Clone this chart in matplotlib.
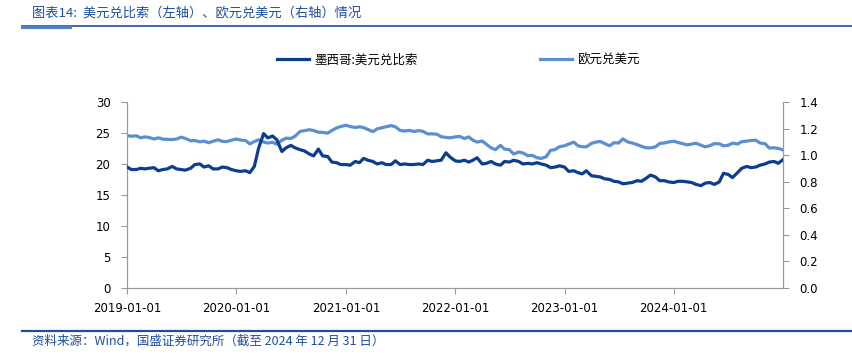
import numpy as np
import pandas as pd
from matplotlib import pyplot as plt
from matplotlib.lines import Line2D
import matplotlib.dates as mdates

plt.rcParams['font.family'] = ['DejaVu Sans', 'Noto Sans CJK SC']
cjk = ['Noto Sans CJK SC', 'DejaVu Sans']

# semi-monthly observations (1st and 15th), plus the last day of 2024
dates = list(pd.date_range('2019-01-01', periods=144, freq='SMS')) + [pd.Timestamp('2024-12-31')]

usd_mxn = [
    # 2019
    19.5, 19.1, 19.1, 19.3, 19.2, 19.3, 19.4, 18.9, 19.1, 19.2, 19.6, 19.2,
    19.1, 19.0, 19.3, 19.9, 20.0, 19.5, 19.7, 19.2, 19.2, 19.5, 19.4, 19.1,
    # 2020
    18.9, 18.8, 18.9, 18.6, 19.6, 22.5, 24.9, 24.2, 24.5, 23.9, 22.0, 22.6,
    23.0, 22.6, 22.3, 22.1, 21.6, 21.3, 22.4, 21.3, 21.2, 20.3, 20.2, 19.9,
    # 2021
    19.9, 19.8, 20.4, 20.2, 20.9, 20.6, 20.4, 20.0, 20.2, 19.9, 19.9, 20.5,
    19.9, 20.0, 19.9, 19.9, 20.0, 19.9, 20.6, 20.4, 20.5, 20.6, 21.8, 21.1,
    # 2022
    20.5, 20.4, 20.6, 20.3, 20.6, 21.0, 20.0, 20.1, 20.4, 20.0, 19.8, 20.4,
    20.3, 20.6, 20.4, 20.0, 20.1, 20.0, 20.2, 20.0, 19.8, 19.4, 19.5, 19.7,
    # 2023
    19.5, 18.8, 18.9, 18.6, 18.4, 18.9, 18.1, 18.0, 17.9, 17.6, 17.5, 17.2,
    17.1, 16.8, 16.9, 17.0, 17.3, 17.2, 17.7, 18.2, 17.9, 17.3, 17.3, 17.1,
    # 2024
    17.0, 17.2, 17.2, 17.1, 17.0, 16.7, 16.5, 16.9, 17.0, 16.7, 17.1, 18.5,
    18.3, 17.8, 18.6, 19.3, 19.6, 19.4, 19.5, 19.8, 20.0, 20.3, 20.4, 20.1,
    20.7,
]

eur_usd = [
    # 2019
    1.147, 1.142, 1.145, 1.130, 1.137, 1.133, 1.121, 1.130, 1.120, 1.119, 1.117, 1.121,
    1.135, 1.125, 1.108, 1.110, 1.100, 1.105, 1.093, 1.104, 1.115, 1.103, 1.102, 1.112,
    # 2020
    1.121, 1.113, 1.109, 1.084, 1.102, 1.115, 1.098, 1.091, 1.096, 1.082, 1.112, 1.127,
    1.125, 1.142, 1.178, 1.184, 1.191, 1.185, 1.172, 1.171, 1.165, 1.185, 1.205, 1.215,
    # 2021
    1.225, 1.215, 1.208, 1.213, 1.207, 1.193, 1.177, 1.197, 1.206, 1.213, 1.222, 1.213,
    1.186, 1.181, 1.186, 1.178, 1.184, 1.179, 1.159, 1.160, 1.157, 1.138, 1.133, 1.130,
    # 2022
    1.137, 1.141, 1.125, 1.137, 1.112, 1.098, 1.106, 1.082, 1.054, 1.041, 1.073, 1.045,
    1.041, 1.008, 1.023, 1.016, 0.995, 0.998, 0.980, 0.975, 0.988, 1.035, 1.042, 1.063,
    # 2023
    1.070, 1.083, 1.098, 1.070, 1.063, 1.062, 1.088, 1.098, 1.102, 1.087, 1.070, 1.093,
    1.091, 1.122, 1.098, 1.091, 1.078, 1.066, 1.055, 1.054, 1.062, 1.088, 1.091, 1.099,
    # 2024
    1.104, 1.095, 1.085, 1.077, 1.083, 1.089, 1.074, 1.062, 1.071, 1.086, 1.085, 1.070,
    1.074, 1.090, 1.083, 1.101, 1.105, 1.110, 1.112, 1.091, 1.086, 1.053, 1.055, 1.050,
    1.039,
]

dark_blue = '#0b3d91'
light_blue = '#5b8fd0'
title_blue = '#1f4e9c'
grey = '#9a9a9a'

fig = plt.figure(figsize=(8.53, 3.59), dpi=100)
ax = fig.add_axes([0.149, 0.198, 0.769, 0.518])
ax2 = ax.twinx()

l1, = ax.plot(dates, usd_mxn, color=dark_blue, lw=2.3, label='墨西哥:美元兑比索', zorder=3)
l2, = ax2.plot(dates, eur_usd, color=light_blue, lw=2.3, label='欧元兑美元', zorder=2)
ax.set_zorder(ax2.get_zorder() + 1)
ax.patch.set_visible(False)

ax.set_xlim(pd.Timestamp('2019-01-01'), pd.Timestamp('2024-12-31'))
ax.set_ylim(0, 30)
ax.set_yticks(np.arange(0, 31, 5))
ax2.set_ylim(0, 1.4)
ax2.set_yticks(np.arange(0, 1.41, 0.2))
ax2.yaxis.set_major_formatter(plt.FuncFormatter(lambda v, p: '%.1f' % v))
ax.xaxis.set_major_locator(mdates.YearLocator())
ax.xaxis.set_major_formatter(mdates.DateFormatter('%Y-%m-%d'))

for a in (ax, ax2):
    for s in a.spines.values():
        s.set_color(grey)
        s.set_linewidth(0.8)
    a.spines['top'].set_visible(False)
    a.tick_params(colors=grey, labelcolor='black', labelsize=8.5, length=4, width=0.8)
ax.tick_params(axis='x', pad=6)
ax.tick_params(axis='y', pad=8)
ax2.tick_params(axis='y', pad=8)

fig.legend(handles=[l1, l2], loc='center', bbox_to_anchor=(0.537, 0.832), ncol=2,
           frameon=False, handlelength=2.6, handletextpad=0.35, columnspacing=9.8,
           prop={'family': cjk, 'size': 9})

fig.text(0.038, 0.965, '图表14:  美元兑比索（左轴）、欧元兑美元（右轴）情况',
         family=cjk, fontsize=9.5, style='italic', color=title_blue, va='center')
fig.add_artist(Line2D([0.026, 1.0], [0.928, 0.928], transform=fig.transFigure,
                      color=title_blue, lw=1.2))
fig.add_artist(Line2D([0.026, 0.082], [0.926, 0.926], transform=fig.transFigure,
                      color='#4f7fc4', lw=2.2))
fig.add_artist(Line2D([0.026, 1.0], [0.078, 0.078], transform=fig.transFigure,
                      color=title_blue, lw=1.6))
fig.text(0.038, 0.05, '资料来源：Wind，国盛证券研究所（截至 2024 年 12 月 31 日）',
         family=cjk, fontsize=9, style='italic', color=title_blue, va='center')

fig.savefig('out.png', dpi=100)
